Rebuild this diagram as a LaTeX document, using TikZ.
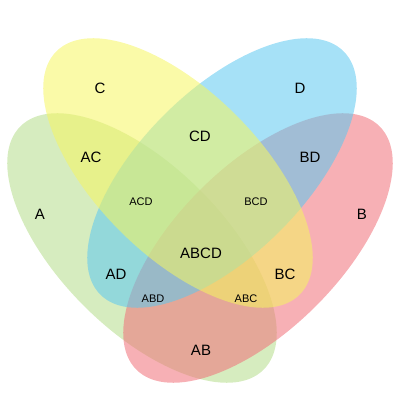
\documentclass[tikz,border=0pt]{standalone}
\usepackage{fontspec}
\setmainfont{Liberation Sans}
\begin{document}
\begin{tikzpicture}[x=1pt,y=1pt,
  set/.style={fill opacity=0.55,draw=none},
  big/.style={font=\fontsize{15}{15}\selectfont},
  small/.style={font=\fontsize{11}{11}\selectfont}]
\useasboundingbox (0,0) rectangle (400,400);
\definecolor{cA}{HTML}{B5DC8A}
\definecolor{cB}{HTML}{F07078}
\definecolor{cC}{HTML}{F5F560}
\definecolor{cD}{HTML}{5CC8F0}
\fill[set,cA,rotate around={-45:(142,152)}] (142,152) ellipse (172 and 82);
\fill[set,cB,rotate around={45:(258,152)}] (258,152) ellipse (172 and 82);
\fill[set,cD,rotate around={45:(222,227)}] (222,227) ellipse (172 and 82);
\fill[set,cC,rotate around={-45:(178,227)}] (178,227) ellipse (172 and 82);
\node[big] (A) at (40,186) {A};
\node[big] (B) at (362,186) {B};
\node[big] (C) at (100,312) {C};
\node[big] (D) at (300,312) {D};
\node[big] (AC) at (91,243) {AC};
\node[big] (CD) at (200,264) {CD};
\node[big] (BD) at (310,243) {BD};
\node[small] (ACD) at (141,198) {ACD};
\node[small] (BCD) at (256,198) {BCD};
\node[big] (ABCD) at (201,147) {ABCD};
\node[big] (AD) at (116,126) {AD};
\node[big] (BC) at (285,126) {BC};
\node[small] (ABD) at (153,101) {ABD};
\node[small] (ABC) at (246,101) {ABC};
\node[big] (AB) at (201,50) {AB};
\end{tikzpicture}
\end{document}
